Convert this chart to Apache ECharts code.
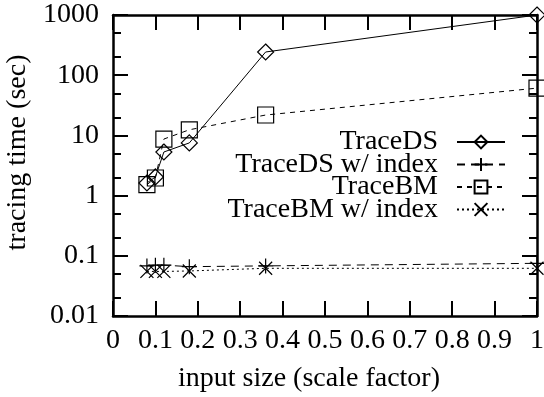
<!DOCTYPE html>
<html>
<head>
<meta charset="utf-8">
<script src="https://cdn.jsdelivr.net/npm/echarts@6/dist/echarts.min.js"></script>
<style>
  html, body { margin: 0; padding: 0; background: #fff; }
  #chart { width: 544px; height: 397px; }
</style>
</head>
<body>
<div id="chart"></div>
<script>
// scale factors used in the runs
var scaleFactors = [0.08, 0.1, 0.12, 0.18, 0.36, 1.0];
// tracing time (sec)
var traceDS = [1.62, 2.04, 5.3, 7.5, 243, 1000];
var traceDSIndex = [0.068, 0.07, 0.07, 0.066, 0.068, 0.075];
var traceBM = [1.52, 1.96, 8.7, 12.4, 21.8, 61];
var traceBMIndex = [0.055, 0.055, 0.055, 0.056, 0.062, 0.062];
var seriesNames = ['TraceDS', 'TraceDS w/ index', 'TraceBM', 'TraceBM w/ index'];
var yTicks = [0.01, 0.1, 1, 10, 100, 1000];
var yMinorTicks = [0.02, 0.05, 0.2, 0.5, 2, 5, 20, 50, 200, 500];

var font = '"Liberation Serif", "DejaVu Serif", serif';

function pairs(vals) {
    return scaleFactors.map(function (x, i) { return [x, vals[i]]; });
}

var plusPath = 'path://M0,5L10,5M5,0L5,10';
var crossPath = 'path://M0,0L10,10M0,10L10,0';

function makeSeries(name, vals, symbol, size, dash) {
    return {
        name: name,
        type: 'line',
        data: pairs(vals),
        symbol: symbol,
        symbolSize: size,
        showAllSymbol: true,
        lineStyle: { color: '#000', width: 1, type: dash },
        itemStyle: { color: 'rgba(0,0,0,0)', borderColor: '#000', borderWidth: 1.2 },
        emphasis: { disabled: true },
        animation: false
    };
}

// major ticks get the axis line, minor-tick axes only draw short ticks
function yAxisDef(pos, showLabel, ticks, len) {
    return {
        type: 'log',
        logBase: 10,
        min: 0.01,
        max: 1000,
        position: pos,
        axisLine: { show: len > 10, lineStyle: { color: '#000', width: 2.5 } },
        splitLine: { show: false },
        axisTick: {
            show: true,
            inside: true,
            length: len,
            customValues: ticks,
            lineStyle: { color: '#000', width: 2 }
        },
        axisLabel: {
            show: showLabel,
            customValues: yTicks,
            color: '#000',
            fontFamily: font,
            fontSize: 28,
            margin: 14,
            formatter: function (v) { return String(v); }
        }
    };
}

function xAxisDef(pos, showLabel) {
    return {
        type: 'value',
        min: 0,
        max: 1,
        interval: 0.1,
        position: pos,
        axisLine: { show: true, onZero: false, lineStyle: { color: '#000', width: 2.5 } },
        splitLine: { show: false },
        axisTick: { show: true, inside: true, length: 15, lineStyle: { color: '#000', width: 2 } },
        axisLabel: {
            show: showLabel,
            color: '#000',
            fontFamily: font,
            fontSize: 28,
            margin: 11,
            formatter: function (v) { return String(Math.round(v * 10) / 10); }
        },
        name: showLabel ? 'input size (scale factor)' : '',
        nameLocation: 'middle',
        nameGap: 49,
        nameTextStyle: { color: '#000', fontFamily: font, fontSize: 28, padding: [0, 32, 0, 0] }
    };
}

var chart = echarts.init(document.getElementById('chart'));
var yLeft = yAxisDef('left', true, yTicks, 15);
yLeft.name = 'tracing time (sec)';
yLeft.nameLocation = 'middle';
yLeft.nameGap = 67;
yLeft.nameTextStyle = { color: '#000', fontFamily: font, fontSize: 28, padding: [0, 0, 0, 26] };

chart.setOption({
    animation: false,
    textStyle: { fontFamily: font },
    grid: { left: 113, right: 7, top: 15, bottom: 81, containLabel: false, outerBoundsMode: 'none' },
    legend: {
        orient: 'vertical',
        right: 33,
        top: 123,
        align: 'right',
        itemWidth: 48,
        itemHeight: 16,
        itemGap: -5.5,
        data: seriesNames,
        textStyle: { color: '#000', fontFamily: font, fontSize: 28, padding: [0, 14, 0, 0] }
    },
    xAxis: [xAxisDef('bottom', true), xAxisDef('top', false)],
    yAxis: [
        yLeft,
        yAxisDef('left', false, yMinorTicks, 8),
        yAxisDef('right', false, yTicks, 15),
        yAxisDef('right', false, yMinorTicks, 8)
    ],
    series: [
        makeSeries(seriesNames[0], traceDS, 'diamond', 16, 'solid'),
        makeSeries(seriesNames[1], traceDSIndex, plusPath, 15, [8, 6]),
        makeSeries(seriesNames[2], traceBM, 'rect', 16, [5, 5]),
        makeSeries(seriesNames[3], traceBMIndex, crossPath, 13, [2, 3])
    ]
});
</script>
</body>
</html>
